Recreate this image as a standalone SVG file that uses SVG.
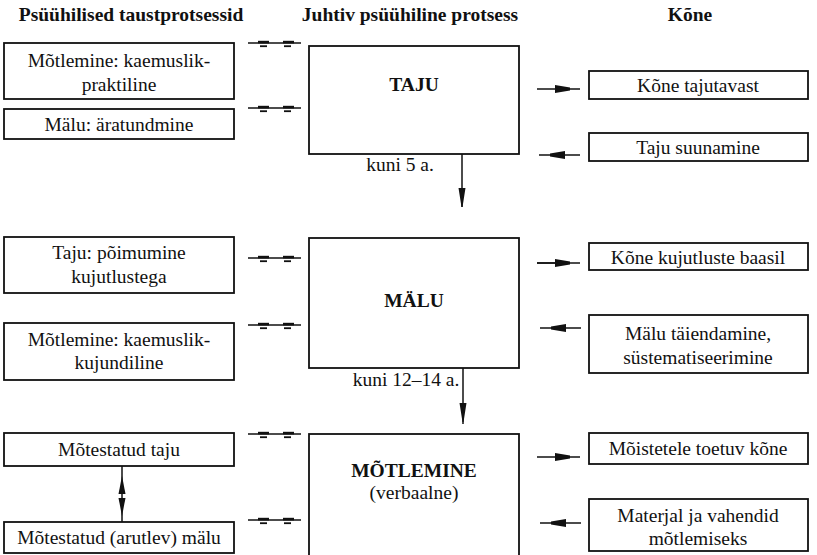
<svg xmlns="http://www.w3.org/2000/svg" width="817" height="555" viewBox="0 0 817 555">
<style>
.box{fill:#fff;stroke:#111;stroke-width:1.8}
.t{font-size:19.5px;fill:#111;text-anchor:middle}
.h{font-size:19.5px;font-weight:bold;fill:#111;text-anchor:middle}
.ln{stroke:#111;stroke-width:1.5;fill:none}
.hd{fill:#111}
</style>
<defs>
<g id="dbl">
<line class="ln" x1="0" y1="0" x2="53" y2="0"/>
<rect class="hd" x="10" y="-2.2" width="11" height="2.6"/>
<rect class="hd" x="35" y="-2.2" width="11" height="2.6"/>
<rect class="hd" x="12" y="2.3" width="7" height="1.8"/>
<rect class="hd" x="36" y="2.3" width="7" height="1.8"/>
</g>
<g id="rarr">
<line class="ln" x1="0" y1="0" x2="43" y2="0"/>
<polygon class="hd" points="18,-4 33,-1.5 33,1.5 18,4"/>
</g>
<g id="larr">
<line class="ln" x1="0" y1="0" x2="41" y2="0"/>
<polygon class="hd" points="26,-4 11,-1.5 11,1.5 26,4"/>
</g>
</defs>
<g font-family="Liberation Serif, Times New Roman, serif">
<g id="headers">
<text class="h" x="131" y="21">Psüühilised taustprotsessid</text>
<text class="h" x="410" y="21">Juhtiv psüühiline protsess</text>
<text class="h" x="690" y="21">Kõne</text>
</g>

<g id="l1"><rect class="box" x="4" y="43" width="230" height="56"/>
<text class="t" x="119" y="67">Mõtlemine: kaemuslik-</text>
<text class="t" x="119" y="91">praktiline</text></g>
<g id="l2"><rect class="box" x="4" y="109" width="230" height="30"/>
<text class="t" x="119" y="131">Mälu: äratundmine</text></g>
<g id="l3"><rect class="box" x="4" y="237" width="230" height="56"/>
<text class="t" x="119" y="259">Taju: põimumine</text>
<text class="t" x="119" y="283">kujutlustega</text></g>
<g id="l4"><rect class="box" x="4" y="323" width="230" height="57"/>
<text class="t" x="119" y="346">Mõtlemine: kaemuslik-</text>
<text class="t" x="119" y="369">kujundiline</text></g>
<g id="l5"><rect class="box" x="4" y="433" width="230" height="33"/>
<text class="t" x="119" y="456">Mõtestatud taju</text></g>
<g id="l6"><rect class="box" x="4" y="522" width="230" height="31"/>
<text class="t" x="119" y="544">Mõtestatud (arutlev) mälu</text></g>

<g id="c1"><rect class="box" x="309" y="46" width="210" height="108"/>
<text class="h" x="414" y="91">TAJU</text></g>
<g id="c2"><rect class="box" x="309" y="238" width="210" height="130"/>
<text class="h" x="414" y="307">MÄLU</text></g>
<g id="c3"><rect class="box" x="309" y="434" width="210" height="130"/>
<text class="h" x="414" y="477">MÕTLEMINE</text>
<text class="t" x="414" y="499">(verbaalne)</text></g>

<g id="r1"><rect class="box" x="589" y="71" width="219" height="28"/>
<text class="t" x="698" y="92">Kõne tajutavast</text></g>
<g id="r2"><rect class="box" x="589" y="133" width="219" height="28"/>
<text class="t" x="698" y="154">Taju suunamine</text></g>
<g id="r3"><rect class="box" x="589" y="243" width="219" height="27"/>
<text class="t" x="698" y="264">Kõne kujutluste baasil</text></g>
<g id="r4"><rect class="box" x="589" y="315" width="219" height="58"/>
<text class="t" x="698" y="340">Mälu täiendamine,</text>
<text class="t" x="698" y="364">süstematiseerimine</text></g>
<g id="r5"><rect class="box" x="589" y="433" width="219" height="31"/>
<text class="t" x="698" y="455">Mõistetele toetuv kõne</text></g>
<g id="r6"><rect class="box" x="589" y="499" width="219" height="52"/>
<text class="t" x="698" y="522">Materjal ja vahendid</text>
<text class="t" x="698" y="545">mõtlemiseks</text></g>

<g id="ages">
<text class="t" x="400" y="171">kuni 5 a.</text>
<text class="t" x="406" y="386">kuni 12–14 a.</text>
</g>
</g>
<g id="connectors">
<use href="#dbl" x="248" y="43"/>
<use href="#dbl" x="248" y="108"/>
<use href="#dbl" x="248" y="258"/>
<use href="#dbl" x="248" y="325"/>
<use href="#dbl" x="248" y="434"/>
<use href="#dbl" x="248" y="520"/>
<use href="#rarr" x="537" y="89"/>
<use href="#larr" x="539" y="155"/>
<use href="#rarr" x="537" y="263"/>
<line class="ln" x1="537" y1="263" x2="558" y2="263" stroke-width="3"/>
<use href="#larr" x="540" y="328"/>
<use href="#rarr" x="537" y="457"/>
<use href="#larr" x="540" y="523"/>
<line class="ln" x1="462" y1="154" x2="462" y2="207"/>
<polygon class="hd" points="458.5,188 465.5,188 462.5,207 461.5,207"/>
<line class="ln" x1="463" y1="368" x2="463" y2="424"/>
<polygon class="hd" points="459.5,403 466.5,403 463.5,422 462.5,422"/>
<line class="ln" x1="122" y1="466" x2="122" y2="522"/>
<polygon class="hd" points="122,476 118.5,494 125.5,494"/>
<polygon class="hd" points="118.5,498 125.5,498 122,516"/>
</g>
</svg>
